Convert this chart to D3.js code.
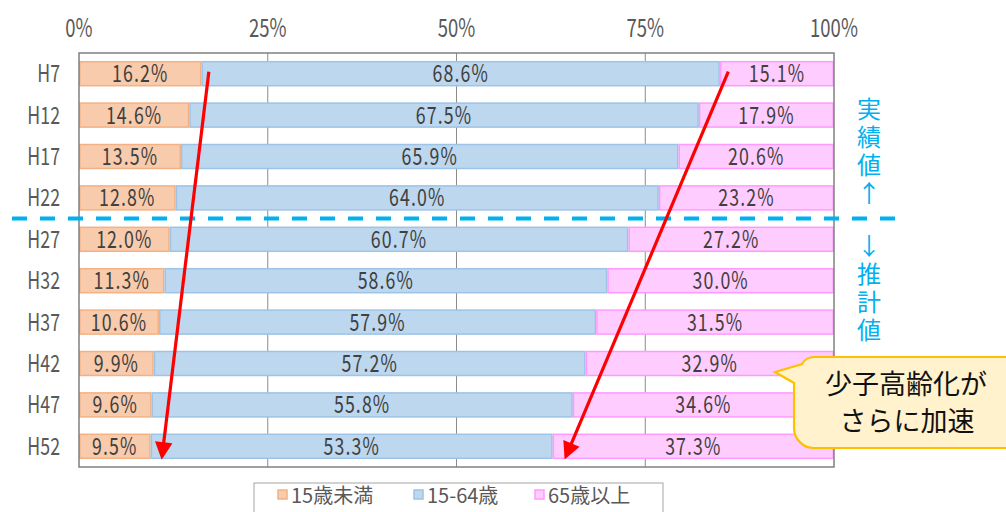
<!DOCTYPE html>
<html>
<head>
<meta charset="utf-8">
<script src="https://cdn.jsdelivr.net/npm/d3@7"></script>
<style>
  body { margin: 0; background: #fff; }
  text { font-family: "Noto Sans CJK JP", "Noto Sans", sans-serif; }
</style>
</head>
<body>
<svg id="chart" width="1006" height="512"></svg>
<script>
// data
var years = ["H7", "H12", "H17", "H22", "H27", "H32", "H37", "H42", "H47", "H52"];
var under15 = [16.2, 14.6, 13.5, 12.8, 12.0, 11.3, 10.6, 9.9, 9.6, 9.5];
var age15to64 = [68.6, 67.5, 65.9, 64.0, 60.7, 58.6, 57.9, 57.2, 55.8, 53.3];
var over65 = [15.1, 17.9, 20.6, 23.2, 27.2, 30.0, 31.5, 32.9, 34.6, 37.3];
var seriesNames = ["15歳未満", "15-64歳", "65歳以上"];
var ticks = [0, 25, 50, 75, 100];
// arrows, in percent along the axis (start at H7, end at H52)
var arrowStart = [17.2, 86.0];
var arrowEnd = [11.0, 64.5];

var fills = ["#f8cbad", "#bdd7ee", "#ffccff"];
var strokes = ["#f4b183", "#9dc3e6", "#ff99ff"];

var svg = d3.select("#chart");
var margin = {left: 79, right: 172, top: 53, bottom: 45};
var W = 1006 - margin.left - margin.right,
    H = 512 - margin.top - margin.bottom;

var x = d3.scaleLinear().domain([0, 100]).range([0, W]);
var y = d3.scaleBand().domain(years).range([0, H]).paddingInner(0.42).paddingOuter(0.21);

// narrow text like the original's condensed gothic digits
function narrow(sel, px, py) {
    return sel.attr("transform", function (d, i) {
        return "translate(" + px(d, i) + "," + py(d, i) + ") scale(0.74,1)";
    }).attr("font-size", 24);
}

var g = svg.append("g").attr("transform", "translate(" + margin.left + "," + margin.top + ")");

// gridlines
g.selectAll(".grid").data(ticks.slice(1, -1)).enter().append("line")
    .attr("x1", function (d) { return x(d); })
    .attr("x2", function (d) { return x(d); })
    .attr("y1", 0).attr("y2", H)
    .attr("stroke", "#8c8c8c").attr("stroke-width", 1);

// top tick labels
narrow(g.selectAll(".tick").data(ticks).enter().append("text"),
    function (d) { return x(d); }, function () { return -16; })
    .attr("text-anchor", "middle")
    .attr("font-size", 25)
    .attr("fill", "#595959")
    .text(function (d) { return d + "%"; });

// stacked rows
var rows = years.map(function (yr, i) {
    var vals = [under15[i], age15to64[i], over65[i]];
    var tot = d3.sum(vals), acc = 0;
    return vals.map(function (v, k) {
        var s = {year: yr, k: k, v: v, x0: acc / tot * 100};
        acc += v;
        s.x1 = acc / tot * 100;
        return s;
    });
});

var rowG = g.selectAll(".row").data(rows).enter().append("g");
var seg = rowG.selectAll(".seg").data(function (d) { return d; }).enter();

seg.append("rect")
    .attr("x", function (d) { return x(d.x0) + 0.75; })
    .attr("y", function (d) { return y(d.year); })
    .attr("width", function (d) { return x(d.x1) - x(d.x0) - 1.5; })
    .attr("height", y.bandwidth())
    .attr("fill", function (d) { return fills[d.k]; })
    .attr("stroke", function (d) { return strokes[d.k]; })
    .attr("stroke-width", 1.5);

narrow(seg.append("text"),
    function (d) { return x((d.x0 + d.x1) / 2); },
    function (d) { return y(d.year) + y.bandwidth() / 2 + 8.5; })
    .attr("text-anchor", "middle")
    .attr("letter-spacing", 1.5)
    .attr("fill", "#404040")
    .text(function (d) { return d3.format(".1f")(d.v) + "%"; });

// category labels
narrow(g.selectAll(".cat").data(years).enter().append("text"),
    function () { return -19; },
    function (d) { return y(d) + y.bandwidth() / 2 + 8.5; })
    .attr("text-anchor", "end")
    .attr("fill", "#595959")
    .text(function (d) { return d; });

// plot border
g.append("rect").attr("x", 0).attr("y", 0).attr("width", W).attr("height", H)
    .attr("fill", "none").attr("stroke", "#808080").attr("stroke-width", 1.5);

// dashed divider between H22 and H27
var divY = margin.top + (y("H22") + y.bandwidth() + y("H27")) / 2;
svg.append("line")
    .attr("x1", 12).attr("x2", 906).attr("y1", divY).attr("y2", divY)
    .attr("stroke", "#00b0f0").attr("stroke-width", 4)
    .attr("stroke-dasharray", "15,13");

// vertical notes
var noteX = 869;
svg.append("text")
    .attr("x", noteX).attr("y", 97)
    .attr("writing-mode", "vertical-rl")
    .attr("style", "text-orientation: upright")
    .attr("letter-spacing", 4)
    .attr("font-size", 24).attr("fill", "#00b0f0")
    .text("実績値↑");
svg.append("text")
    .attr("x", noteX).attr("y", 234)
    .attr("writing-mode", "vertical-rl")
    .attr("style", "text-orientation: upright")
    .attr("letter-spacing", 4)
    .attr("font-size", 24).attr("fill", "#00b0f0")
    .text("↓推計値");

// red arrows
svg.append("defs").append("marker")
    .attr("id", "head").attr("viewBox", "0 0 10 10")
    .attr("refX", 8).attr("refY", 5)
    .attr("markerWidth", 6).attr("markerHeight", 5.5)
    .attr("markerUnits", "strokeWidth")
    .attr("orient", "auto")
    .append("path").attr("d", "M0,0L10,5L0,10z").attr("fill", "#ff0000");

var yTop = margin.top + y("H7") + y.bandwidth() / 2 - 2;
var yBot = margin.top + y("H52") + y.bandwidth() / 2 + 10;
arrowStart.forEach(function (s, i) {
    svg.append("line")
        .attr("x1", margin.left + x(s)).attr("y1", yTop)
        .attr("x2", margin.left + x(arrowEnd[i])).attr("y2", yBot)
        .attr("stroke", "#ff0000").attr("stroke-width", 3.2)
        .attr("marker-end", "url(#head)");
});

// callout bubble
var bx = 794, by = 357, bw = 240, bh = 91, r = 20;
var callout = d3.path();
callout.moveTo(bx + r, by);
callout.lineTo(bx + bw - r, by);
callout.arcTo(bx + bw, by, bx + bw, by + r, r);
callout.lineTo(bx + bw, by + bh - r);
callout.arcTo(bx + bw, by + bh, bx + bw - r, by + bh, r);
callout.lineTo(bx + r, by + bh);
callout.arcTo(bx, by + bh, bx, by + bh - r, r);
callout.lineTo(bx, by + 26);
callout.lineTo(775, by + 15);
callout.lineTo(bx + 8, by + 7);
callout.quadraticCurveTo(bx + 12, by, bx + r, by);
callout.closePath();
svg.append("path").attr("d", callout.toString())
    .attr("fill", "#fff2cc").attr("stroke", "#ffc000").attr("stroke-width", 2.2);
svg.append("text").attr("x", 906).attr("y", 394).attr("text-anchor", "middle")
    .attr("font-size", 27).attr("fill", "#111").text("少子高齢化が");
svg.append("text").attr("x", 907).attr("y", 431).attr("text-anchor", "middle")
    .attr("font-size", 27).attr("fill", "#111").text("さらに加速");

// legend
var lg = svg.append("g");
lg.append("rect").attr("x", 254).attr("y", 483).attr("width", 409).attr("height", 40)
    .attr("fill", "#fff").attr("stroke", "#a6a6a6").attr("stroke-width", 1);
var legX = [278, 414, 535];
seriesNames.forEach(function (n, k) {
    lg.append("rect").attr("x", legX[k]).attr("y", 490).attr("width", 9).attr("height", 9)
        .attr("fill", fills[k]).attr("stroke", strokes[k]).attr("stroke-width", 1.5);
    lg.append("text").attr("x", legX[k] + 13).attr("y", 503)
        .attr("font-size", 20).attr("fill", "#595959").text(n);
});
</script>
</body>
</html>
